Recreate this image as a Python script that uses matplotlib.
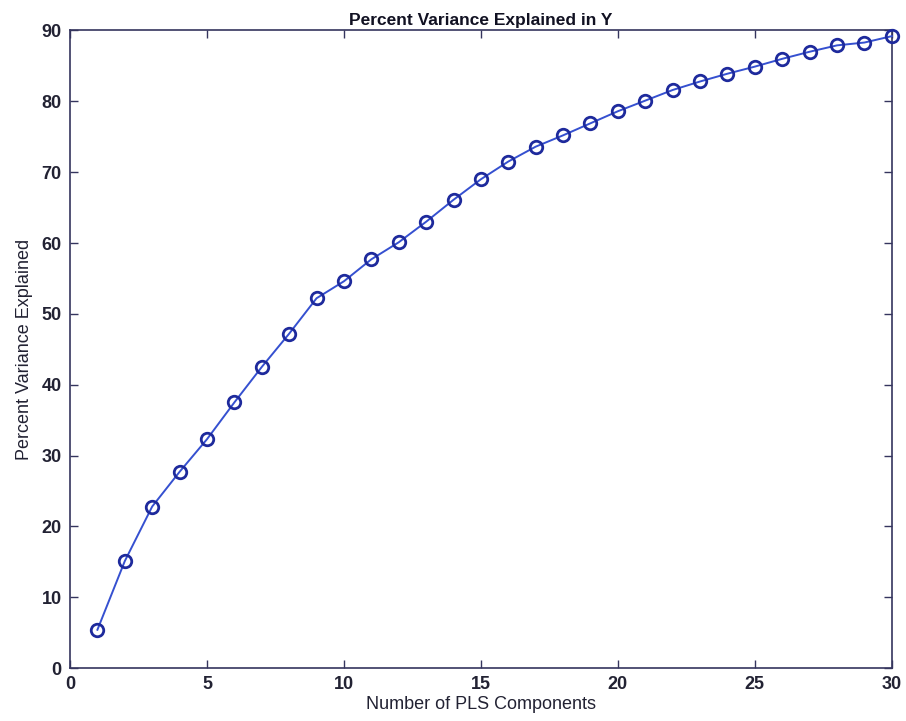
import matplotlib
matplotlib.use("Agg")
import matplotlib.pyplot as plt

# Cumulative percent variance in Y explained by each number of PLS components
n_components = list(range(1, 31))
pct_var_explained = [5.4, 15.1, 22.8, 27.7, 32.3, 37.5, 42.5, 47.2, 52.2, 54.6,
                     57.7, 60.1, 63.0, 66.1, 69.0, 71.5, 73.6, 75.2, 76.9, 78.6,
                     80.1, 81.6, 82.8, 83.9, 84.9, 86.0, 87.0, 87.9, 88.3, 89.2]

x_ticks = [0, 5, 10, 15, 20, 25, 30]
y_ticks = [0, 10, 20, 30, 40, 50, 60, 70, 80, 90]

plt.rcParams["font.family"] = ["Liberation Sans", "DejaVu Sans"]

axis_color = "#35355e"
fig = plt.figure(figsize=(9.06, 7.21), dpi=100)
ax = fig.add_axes([0.0773, 0.0735, 0.907, 0.8842])

ax.plot(n_components, pct_var_explained, color="#3550d0", linewidth=1.4,
        marker="o", markersize=9, markerfacecolor="none",
        markeredgecolor="#1e2a9c", markeredgewidth=2.0, clip_on=False,
        zorder=3)

ax.set_xlim(0, 30)
ax.set_ylim(0, 90)
ax.set_xticks(x_ticks)
ax.set_yticks(y_ticks)
ax.tick_params(direction="in", length=6, width=1, colors=axis_color,
               top=True, right=True, labelsize=13, pad=6)
for lbl in ax.get_xticklabels() + ax.get_yticklabels():
    lbl.set_fontweight("bold")
    lbl.set_color("#222233")
for sp in ax.spines.values():
    sp.set_color(axis_color)
    sp.set_linewidth(1.2)

ax.set_title("Percent Variance Explained in Y", fontsize=12.5,
             fontweight="bold", color="#111122", pad=4)
ax.set_xlabel("Number of PLS Components", fontsize=13, color="#222233", labelpad=2)
ax.set_ylabel("Percent Variance Explained", fontsize=13, color="#222233", labelpad=6)

fig.savefig("out.png", dpi=100)
